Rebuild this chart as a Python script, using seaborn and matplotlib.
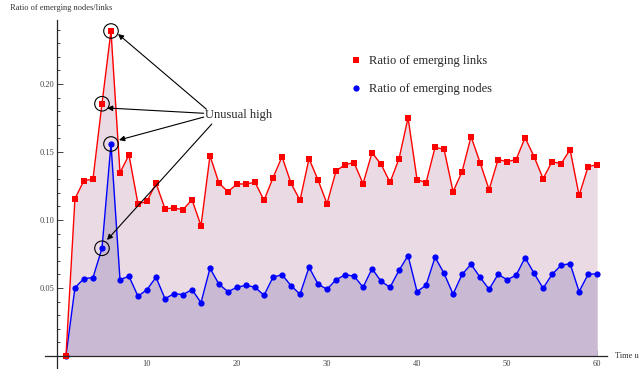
import matplotlib
matplotlib.use("Agg")
import matplotlib.pyplot as plt
import matplotlib.ticker as mticker
from matplotlib.lines import Line2D
import pandas as pd
import seaborn as sns

# values
time_units = list(range(1, 61))
links_ratio = [0.0, 0.1157, 0.129, 0.130, 0.1855, 0.239, 0.1348, 0.1478, 0.1118, 0.1137,
               0.127, 0.1083, 0.1088, 0.1076, 0.1149, 0.0958, 0.1473, 0.127, 0.1208, 0.1265,
               0.1265, 0.1277, 0.1145, 0.131, 0.1466, 0.127, 0.1145, 0.1451, 0.1294, 0.112,
               0.136, 0.1407, 0.1422, 0.1267, 0.1495, 0.141, 0.1277, 0.1451, 0.1752, 0.1297,
               0.1275, 0.1534, 0.152, 0.1208, 0.1355, 0.1613, 0.1422, 0.1223, 0.1444, 0.1429,
               0.1444, 0.1605, 0.1466, 0.1304, 0.1429, 0.1414, 0.1517, 0.1181, 0.1392, 0.1407]
nodes_ratio = [0.0, 0.0502, 0.0569, 0.0576, 0.0792, 0.1559, 0.0561, 0.0586, 0.0439, 0.0488,
               0.0579, 0.0421, 0.0458, 0.0451, 0.0488, 0.0392, 0.0645, 0.0527, 0.0473, 0.0505,
               0.052, 0.0505, 0.0446, 0.0579, 0.0598, 0.0517, 0.0454, 0.0652, 0.0529, 0.049,
               0.0561, 0.0596, 0.0588, 0.0505, 0.0642, 0.0549, 0.0505, 0.063, 0.0738, 0.0473,
               0.052, 0.0726, 0.0608, 0.0454, 0.06, 0.0674, 0.0579, 0.049, 0.06, 0.0561,
               0.0593, 0.0723, 0.0608, 0.0498, 0.06, 0.0667, 0.0679, 0.0473, 0.06, 0.0605]
unusual_times = [5, 6]
legend_labels = ["Ratio of emerging links", "Ratio of emerging nodes"]

LINK_FILL = "#E9DAE4"
NODE_FILL = "#C9B9D3"
TICK_LABEL_COLOR = "#444444"

sns.set_style("ticks")
plt.rcParams['font.family'] = ['Liberation Serif', 'DejaVu Serif']

df = pd.DataFrame({"t": time_units, "links": links_ratio, "nodes": nodes_ratio})

fig = plt.figure(figsize=(6.39, 3.69), dpi=100)
ax = fig.add_axes([45 / 639, 0, (607 - 45) / 639, 349 / 369])

# filling down to the axis, nodes on top of links
ax.fill_between(df["t"], 0, df["links"], color=LINK_FILL, lw=0)
ax.fill_between(df["t"], 0, df["nodes"], color=NODE_FILL, lw=0)

sns.lineplot(data=df, x="t", y="nodes", color="blue", marker="o", markersize=4.5,
             markeredgewidth=0, lw=1, ax=ax)
sns.lineplot(data=df, x="t", y="links", color="red", marker="s", markersize=4,
             markeredgewidth=0, lw=1, ax=ax)

# circles round the unusual points
unusual = df[df["t"].isin(unusual_times)]
ax.scatter(unusual["t"], unusual["links"], s=110, facecolors="none", edgecolors="black", lw=0.8, zorder=5)
ax.scatter(unusual["t"], unusual["nodes"], s=110, facecolors="none", edgecolors="black", lw=0.8, zorder=5)

ax.text(16.4, 0.1772, "Unusual high", fontsize=9, va="center", ha="left")
arrows = [((6.78, 0.2368), (16.6, 0.1815)),
          ((5.56, 0.1824), (16.3, 0.1785)),
          ((6.89, 0.1588), (16.3, 0.1757)),
          ((5.56, 0.0853), (17.2, 0.1706))]
for tip, tail in arrows:
    ax.annotate("", xy=tip, xytext=tail,
                arrowprops=dict(arrowstyle="-|>", color="black", lw=0.8, mutation_scale=8,
                                shrinkA=0, shrinkB=0))

# Mathematica-like crossing axes
ax.set_xlim(-1.33, 61.1)
ax.set_ylim(-0.0096, 0.2471)
ax.spines["left"].set_position(("data", 0))
ax.spines["bottom"].set_position(("data", 0))
ax.spines["top"].set_visible(False)
ax.spines["right"].set_visible(False)
for s in ["left", "bottom"]:
    ax.spines[s].set_linewidth(0.9)

ax.xaxis.set_major_locator(mticker.FixedLocator(range(10, 61, 10)))
ax.xaxis.set_minor_locator(mticker.MultipleLocator(2))
ax.yaxis.set_major_locator(mticker.FixedLocator([0.05, 0.10, 0.15, 0.20]))
ax.yaxis.set_minor_locator(mticker.MultipleLocator(0.01))
ax.yaxis.set_major_formatter(mticker.FormatStrFormatter("%.2f"))
ax.tick_params(which="both", direction="in", width=0.6, labelsize=6, labelcolor=TICK_LABEL_COLOR,
               left=True, bottom=True)
ax.tick_params(which="major", length=4)
ax.tick_params(which="minor", length=2)
ax.tick_params(axis="x", pad=3)
ax.tick_params(axis="y", pad=2)
ax.set_xlabel("")
ax.set_ylabel("")

fig.text(10 / 639, 1 - 8 / 369, "Ratio of emerging nodes/links", fontsize=6, va="center",
         ha="left", color="#333333")
# the original label runs past the right edge of the figure
fig.text(615 / 639, 1 - 356 / 369, "Time units", fontsize=6, va="center", ha="left",
         color="#333333")

handles = [Line2D([], [], color="red", marker="s", ls="none", markersize=4, markeredgewidth=0),
           Line2D([], [], color="blue", marker="o", ls="none", markersize=4.5, markeredgewidth=0)]
fig.legend(handles, legend_labels, loc="upper left", bbox_to_anchor=(343 / 639, 1 - 49 / 369),
           frameon=False, fontsize=9, labelspacing=1.25, handlelength=1, handletextpad=0.6,
           borderpad=0)

fig.savefig("out.png", dpi=100)
